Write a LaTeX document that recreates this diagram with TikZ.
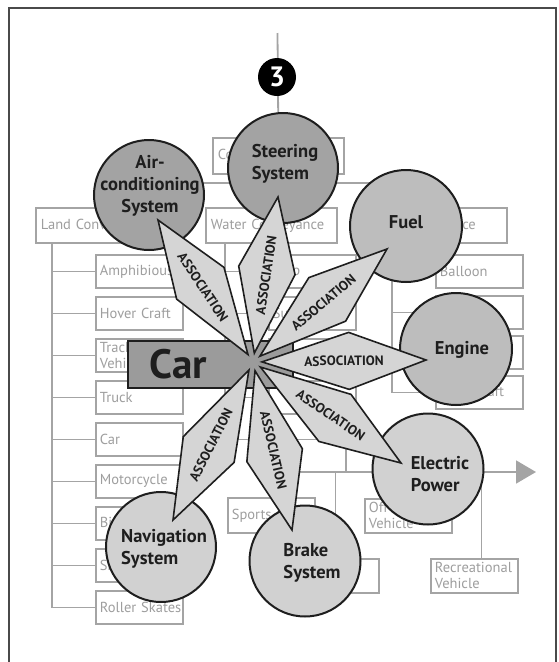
\documentclass[tikz,border=0pt]{standalone}
\usepackage{fontspec}
\setmainfont{PT Sans}
\usetikzlibrary{calc,arrows.meta}

\definecolor{treeline}{HTML}{A4A4A4}
\definecolor{treetext}{HTML}{9E9E9E}
\definecolor{framecol}{HTML}{4A4A4A}
\definecolor{darkfill}{HTML}{A3A3A3}
\definecolor{midfill}{HTML}{BDBDBD}
\definecolor{lightfill}{HTML}{D1D1D1}
\definecolor{kitefill}{HTML}{D5D5D5}
\definecolor{carfill}{HTML}{9B9B9B}
\definecolor{ink}{HTML}{1E1E1E}

\pgfdeclarelayer{links}
\pgfsetlayers{links,main}

% kite-shaped association running from the hub of the Car box to a tip
\newcommand\assockite[1]{%
  \coordinate (kb) at ($(hub)!9pt!(#1)$);
  \coordinate (km) at ($(kb)!0.53!(#1)$);
  \draw[kite] (kb) -- ($(km)!28.5pt!90:(#1)$) -- (#1) -- ($(km)!28.5pt!-90:(#1)$) -- cycle;
  \path (kb) -- (#1) node[midway, sloped, assoctext] {ASSOCIATION};
}

\begin{document}
\begin{tikzpicture}[x=1pt, y=-1pt,
  treelink/.style={draw=treeline, line width=1.8pt},
  catbox/.style={draw=treeline, line width=1.8pt, fill=white, anchor=north west,
    text width=121pt, inner xsep=5pt, inner ysep=0pt, minimum height=35pt, align=left,
    text=treetext, font=\fontsize{14.5}{16}\selectfont},
  itembox/.style={catbox, text width=79pt, inner xsep=4pt, minimum height=33pt},
  topic/.style={circle, draw=ink, line width=2pt, inner sep=0pt},
  topictext/.style={text=ink, font=\bfseries\fontsize{18.5}{22}\selectfont, align=left},
  kite/.style={draw=ink, fill=kitefill, line width=1.6pt, line join=miter},
  assoctext/.style={text=ink, font=\bfseries\fontsize{13.5}{14}\selectfont, inner sep=0pt},
]
\useasboundingbox (0,0) rectangle (558,662);
\draw[framecol, line width=1.2pt] (9,662) -- (9,8) -- (556,8) -- (556,662);

% ---------- classification tree in the background ----------
\node[catbox, minimum height=36pt] (conv) at (212,137) {Conveyance};
\node[catbox] (land)  at (35,207)  {Land Conveyance};
\node[catbox] (water) at (205,207) {Water Conveyance};
\node[catbox] (air)   at (375,207) {Air Conveyance};

\node[itembox] (l1) at (95,254) {Amphibious};
\node[itembox] (l2) at (95,296) {Hover Craft};
\node[itembox] (l3) at (95,338) {Tracked\\Vehicle};
\node[itembox] (l4) at (95,380) {Truck};
\node[itembox] (l5) at (95,422) {Car};
\node[itembox] (l6) at (95,464) {Motorcycle};
\node[itembox] (l7) at (95,506) {Bicycle};
\node[itembox] (l8) at (95,548) {Skateboard};
\node[itembox] (l9) at (95,590) {\mbox{Roller Skates}};

\node[itembox] (w1) at (268,254) {Ship};
\node[itembox] (w2) at (268,296) {Submarine};
\node[itembox] (w3) at (268,338) {Boat};
\node[itembox] (w4) at (268,380) {};

\node[itembox] (a1) at (435,254) {Balloon};
\node[itembox] (a2) at (435,295) {};
\node[itembox] (a3) at (435,335) {};
\node[itembox] (a4) at (435,375) {Spacecraft};

\node[itembox, minimum height=35pt] (cs) at (227,497) {Sports Car};
\node[itembox, minimum height=34pt] (cx) at (291,558) {};
\node[itembox, minimum height=34pt] (co) at (364,498) {Off-road\\Vehicle};
\node[itembox, minimum height=34pt] (cr) at (430,558) {Recreational\\Vehicle};

\node[circle, fill=black, minimum size=38pt, inner sep=0pt, text=white,
      font=\bfseries\fontsize{28}{28}\selectfont] (num) at (277,77) {3};

% tree links, kept underneath every box
\coordinate (numtop) at (277.5,33);
\coordinate (bus) at (277.5,183);
\coordinate (cj) at (346,472);
\coordinate (arrowend) at (536,472);
\coordinate (ltrunk) at (52,242);
\coordinate (wtrunk) at (225,241);
\coordinate (atrunk) at (392,242);

\begin{pgfonlayer}{links}
\begin{scope}[treelink]
  \draw (numtop) -- (conv.north);
  \draw (conv.south) -- (bus);
  \draw (land.north) |- (bus) -| (air.north);
  \draw (water.north) -- (water.north |- bus);
  \foreach \i in {1,...,9} \draw (ltrunk) |- (l\i.west);
  \foreach \i in {1,...,4} \draw (wtrunk) |- (w\i.west);
  \foreach \i in {1,...,4} \draw (atrunk) |- (a\i.west);
  \draw (l5.east) -| (cj);
  \draw[-{Triangle[length=20pt,width=23pt]}] (cs.north) |- (arrowend);
  \draw (cx.north) -- (cx.north |- cj);
  \draw (co.north) -- (co.north |- cj);
  \draw ([xshift=7pt]cr.north) -- ([xshift=7pt]cr.north |- cj);
\end{scope}
\end{pgfonlayer}

% ---------- the Car class and its associated topics ----------
\node[draw=ink, fill=carfill, line width=1.6pt, anchor=north west,
      minimum width=165pt, minimum height=47pt, text width=121pt, inner xsep=22pt,
      align=left, text=ink, font=\bfseries\fontsize{41}{41}\selectfont] (car) at (127,340) {Car};

\node[topic, fill=darkfill,  minimum size=110pt] (ac)     at (149,195) {};
\node[topic, fill=darkfill,  minimum size=110pt] (steer)  at (283,168) {};
\node[topic, fill=midfill,   minimum size=112pt] (fuel)   at (406,226) {};
\node[topic, fill=midfill,   minimum size=112pt] (engine) at (456,349) {};
\node[topic, fill=lightfill, minimum size=111pt] (elec)   at (428,469) {};
\node[topic, fill=lightfill, minimum size=111pt] (brake)  at (305,561) {};
\node[topic, fill=lightfill, minimum size=110pt] (nav)    at (161,547) {};

\coordinate (hub)     at (253,362);
\coordinate (tac)     at (158,220);
\coordinate (tsteer)  at (278,197);
\coordinate (tfuel)   at (387,249);
\coordinate (tengine) at (426,360);
\coordinate (telec)   at (401,463);
\coordinate (tbrake)  at (292,530);
\coordinate (tnav)    at (173,520);

\assockite{tac}
\assockite{tsteer}
\assockite{tfuel}
\assockite{tengine}
\assockite{telec}
\assockite{tbrake}
\assockite{tnav}

\node[topictext, align=center] (ac-t) at (150,186) {Air-\\conditioning\\System};
\node[topictext] (steer-t)  at (285,164) {Steering\\System};
\node[topictext] (fuel-t)   at (406,222) {Fuel};
\node[topictext] (engine-t) at (462,350) {Engine};
\node[topictext] (elec-t)   at (440,474) {Electric\\Power};
\node[topictext] (brake-t)  at (312,563) {Brake\\System};
\node[topictext] (nav-t)    at (164,549) {Navigation\\System};
\end{tikzpicture}
\end{document}
